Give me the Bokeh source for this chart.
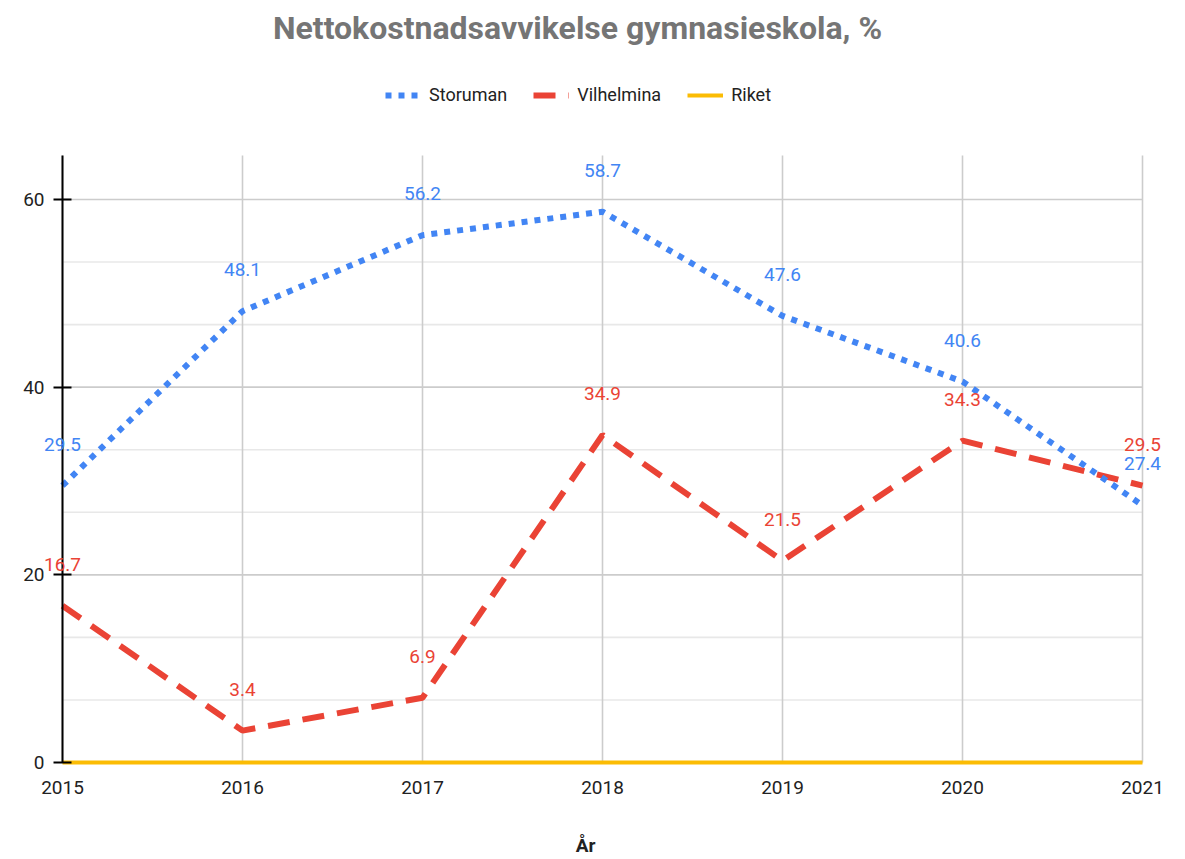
from bokeh.plotting import figure
from bokeh.models import (ColumnDataSource, LabelSet, Label, Legend, LegendItem,
                          FixedTicker)
from bokeh.core.properties import value
from bokeh.embed import file_html
from bokeh.resources import INLINE

years = [2015, 2016, 2017, 2018, 2019, 2020, 2021]
storuman = [29.5, 48.1, 56.2, 58.7, 47.6, 40.6, 27.4]
vilhelmina = [16.7, 3.4, 6.9, 34.9, 21.5, 34.3, 29.5]
riket = [0, 0, 0, 0, 0, 0, 0]
y_ticks = [0, 20, 40, 60]
y_minor = [20 / 3, 40 / 3, 80 / 3, 100 / 3, 140 / 3, 160 / 3]
y_max = 64.7

title_text = "Nettokostnadsavvikelse gymnasieskola, %"
x_label = "År"

FONT = "Roboto"
BLUE = "#4285F4"
RED = "#EA4335"
YELLOW = "#FBBC04"
TXT = "#222222"

# canvas layout (pixels)
W, H = 1185, 859
FL, FR = 0, 1170           # frame left / right
FB = 774                   # frame bottom (frame top = 0)
Y0PX = 762                 # where y=0 sits
X0PX, X1PX = 62, 1142      # where first / last year sit
Y60PX = 199                # where y=60 sits
ppx = (X1PX - X0PX) / (years[-1] - years[0])
ppy = (Y0PX - Y60PX) / 60.0
x_start = years[0] - (X0PX - FL) / ppx
x_end = years[-1] + (FR - X1PX) / ppx
y_start = -(FB - Y0PX) / ppy
y_end = Y0PX / ppy


def data_x(px):
    return years[0] + (px - X0PX) / ppx


def data_y(py):
    return (Y0PX - py) / ppy


p = figure(width=W, height=H, output_backend="svg", toolbar_location=None,
           title=None, x_range=(x_start, x_end), y_range=(y_start, y_end),
           min_border_left=FL, min_border_right=W - FR, min_border_top=0,
           min_border_bottom=H - FB)
p.outline_line_color = None
p.xgrid.visible = False
p.ygrid.visible = False

# grid lines (drawn within the chart area only)
p.segment(x0=[years[0]] * len(y_minor), x1=[years[-1]] * len(y_minor),
          y0=y_minor, y1=y_minor, line_color="#e8e8e8", line_width=1.6,
          level="underlay")
p.segment(x0=[years[0]] * len(y_ticks), x1=[years[-1]] * len(y_ticks),
          y0=y_ticks, y1=y_ticks, line_color="#cccccc", line_width=1.6,
          level="underlay")
p.segment(x0=years, x1=years, y0=[0] * len(years), y1=[y_max] * len(years),
          line_color="#cccccc", line_width=1.6, level="underlay")

src_s = ColumnDataSource(dict(x=years, y=storuman, t=[f"{v:.1f}" for v in storuman]))
src_v = ColumnDataSource(dict(x=years, y=vilhelmina, t=[f"{v:.1f}" for v in vilhelmina]))
src_r = ColumnDataSource(dict(x=years, y=riket))

r_r = p.line("x", "y", source=src_r, line_color=YELLOW, line_width=4)
r_v = p.line("x", "y", source=src_v, line_color=RED, line_width=6, line_dash="22 13")
r_s = p.line("x", "y", source=src_s, line_color=BLUE, line_width=6, line_dash="6 7")

for src, col in ((src_s, BLUE), (src_v, RED)):
    p.add_layout(LabelSet(x="x", y="y", text="t", source=src, y_offset=35,
                          text_align="center", text_baseline="alphabetic",
                          text_font=value(FONT), text_font_size=value("19px"),
                          text_color=value(col)))

# title
p.add_layout(Label(x=data_x(577), y=data_y(27), text=title_text,
                   text_align="center", text_baseline="middle",
                   text_font=FONT, text_font_size="32px", text_font_style="bold",
                   text_color="#757575"))

legend = Legend(items=[LegendItem(label="Storuman", renderers=[r_s]),
                       LegendItem(label="Vilhelmina", renderers=[r_v]),
                       LegendItem(label="Riket", renderers=[r_r])],
                orientation="horizontal", location=(385 - FL, FB - 105),
                border_line_color=None, background_fill_alpha=0,
                label_text_font=FONT, label_text_font_size="18px",
                label_text_color=TXT, glyph_width=36, glyph_height=20,
                label_standoff=8, spacing=26, margin=0, padding=0)
p.add_layout(legend, "center")

# axes
p.xaxis.ticker = FixedTicker(ticks=years)
p.xaxis.axis_line_color = None
p.xaxis.major_tick_line_color = None
p.xaxis.minor_tick_line_color = None
p.xaxis.major_label_text_font = FONT
p.xaxis.major_label_text_font_size = "19px"
p.xaxis.major_label_text_color = TXT
p.xaxis.major_label_standoff = 0
p.xaxis.axis_label = x_label
p.xaxis.axis_label_text_font = FONT
p.xaxis.axis_label_text_font_size = "19px"
p.xaxis.axis_label_text_font_style = "bold"
p.xaxis.axis_label_text_color = TXT
p.xaxis.axis_label_standoff = 37

p.yaxis.ticker = FixedTicker(ticks=y_ticks)
p.yaxis.fixed_location = years[0]
p.yaxis.bounds = (0, y_max)
p.yaxis.axis_line_color = "#000000"
p.yaxis.axis_line_width = 2
p.yaxis.major_tick_line_color = "#000000"
p.yaxis.major_tick_line_width = 2
p.yaxis.major_tick_in = 9
p.yaxis.major_tick_out = 9
p.yaxis.minor_tick_line_color = None
p.yaxis.major_label_text_font = FONT
p.yaxis.major_label_text_font_size = "19px"
p.yaxis.major_label_text_color = TXT
p.yaxis.major_label_standoff = 9

open("out.html", "w").write(file_html(p, INLINE))
